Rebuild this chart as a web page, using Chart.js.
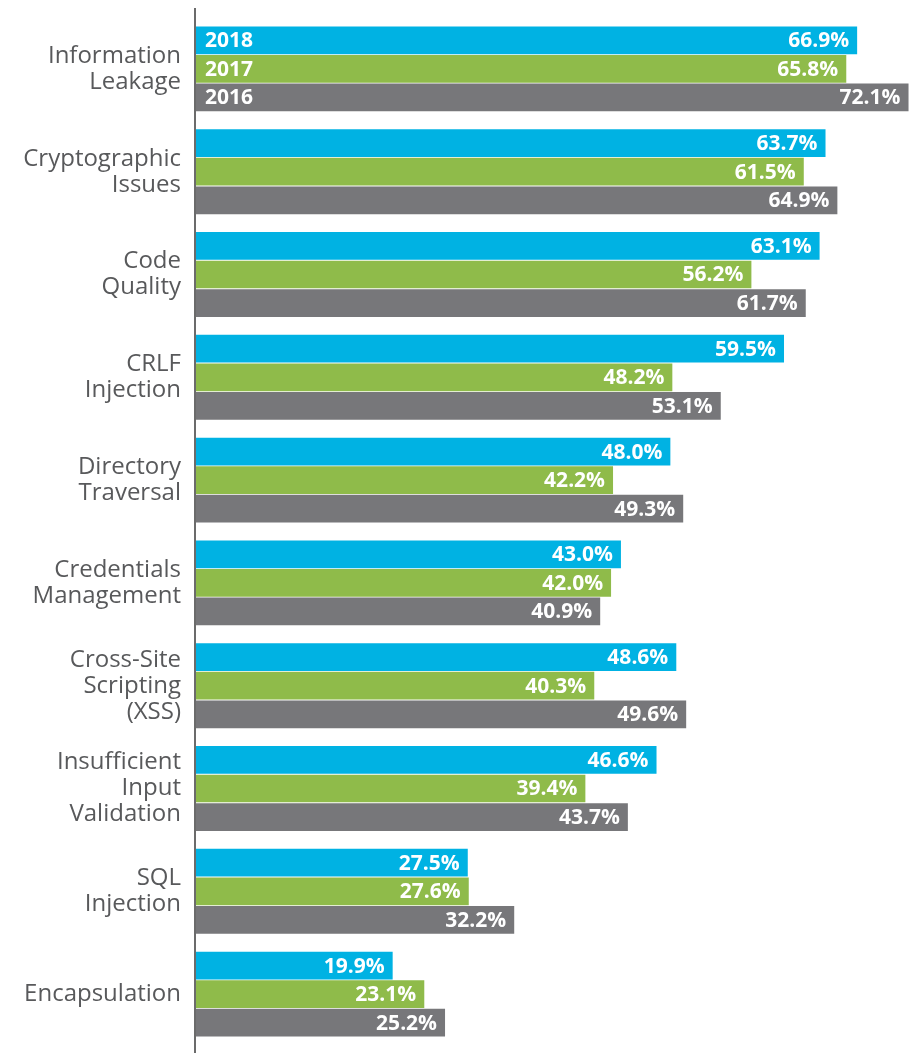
<!DOCTYPE html>
<html>
<head>
<meta charset="utf-8">
<script src="https://cdn.jsdelivr.net/npm/chart.js@4"></script>
<style>
  html, body { margin: 0; padding: 0; background: #fff; }
  canvas { display: block; }
</style>
</head>
<body>
<canvas id="chart" width="911" height="1053"></canvas>
<script>
// categories, top to bottom
const categories = [
  ['Information', 'Leakage'],
  ['Cryptographic', 'Issues'],
  ['Code', 'Quality'],
  ['CRLF', 'Injection'],
  ['Directory', 'Traversal'],
  ['Credentials', 'Management'],
  ['Cross-Site', 'Scripting', '(XSS)'],
  ['Insufficient', 'Input', 'Validation'],
  ['SQL', 'Injection'],
  ['Encapsulation']
]
const seriesNames = ['2018', '2017', '2016']
const values2018 = [66.9, 63.7, 63.1, 59.5, 48.0, 43.0, 48.6, 46.6, 27.5, 19.9]
const values2017 = [65.8, 61.5, 56.2, 48.2, 42.2, 42.0, 40.3, 39.4, 27.6, 23.1]
const values2016 = [72.1, 64.9, 61.7, 53.1, 49.3, 40.9, 49.6, 43.7, 32.2, 25.2]
const colors = ['#00b2e3', '#8fbb4a', '#77777a']

const FONT = '"Open Sans", "DejaVu Sans", sans-serif'

// white % labels inside bar ends + year names on the first group
const barLabels = {
  id: 'barLabels',
  afterDatasetsDraw(chart) {
    const ctx = chart.ctx
    ctx.save()
    ctx.fillStyle = '#fff'
    ctx.textBaseline = 'middle'
    ctx.font = 'bold 21px ' + FONT
    chart.data.datasets.forEach((ds, i) => {
      const meta = chart.getDatasetMeta(i)
      meta.data.forEach((bar, j) => {
        ctx.textAlign = 'right'
        ctx.fillText(ds.data[j].toFixed(1) + '%', bar.x - 8, bar.y + 1)
        if (j === 0) {
          ctx.textAlign = 'left'
          ctx.fillText(ds.label, bar.base + 9, bar.y + 1)
        }
      })
    })
    ctx.restore()
  }
}

// vertical axis line, runs a bit past the plot area
const axisLine = {
  id: 'axisLine',
  afterDraw(chart) {
    const ctx = chart.ctx
    const x = chart.scales.x.getPixelForValue(0) - 1
    ctx.save()
    ctx.strokeStyle = '#6b6b6b'
    ctx.lineWidth = 2
    ctx.beginPath()
    ctx.moveTo(x, 8)
    ctx.lineTo(x, 1053)
    ctx.stroke()
    ctx.restore()
  }
}

new Chart(document.getElementById('chart').getContext('2d'), {
  type: 'bar',
  data: {
    labels: categories,
    datasets: [
      { label: seriesNames[0], data: values2018, backgroundColor: colors[0] },
      { label: seriesNames[1], data: values2017, backgroundColor: colors[1] },
      { label: seriesNames[2], data: values2016, backgroundColor: colors[2] }
    ]
  },
  options: {
    indexAxis: 'y',
    responsive: false,
    animation: false,
    layout: { padding: { top: 17.5, bottom: 7.5, left: 0, right: 0 } },
    datasets: { bar: { categoryPercentage: 0.834, barPercentage: 0.97 } },
    plugins: {
      legend: { display: false },
      tooltip: { enabled: false }
    },
    scales: {
      x: { display: false, min: 0, max: 72.35 },
      y: {
        grid: { display: false, drawTicks: false },
        border: { display: false },
        afterFit(s) {
          s.width = 196
          s.paddingTop = 0
          s.paddingBottom = 0
        },
        ticks: {
          padding: 15,
          color: '#58595b',
          font: { family: FONT, size: 24, lineHeight: '26px' }
        }
      }
    }
  },
  plugins: [barLabels, axisLine]
})
</script>
</body>
</html>
